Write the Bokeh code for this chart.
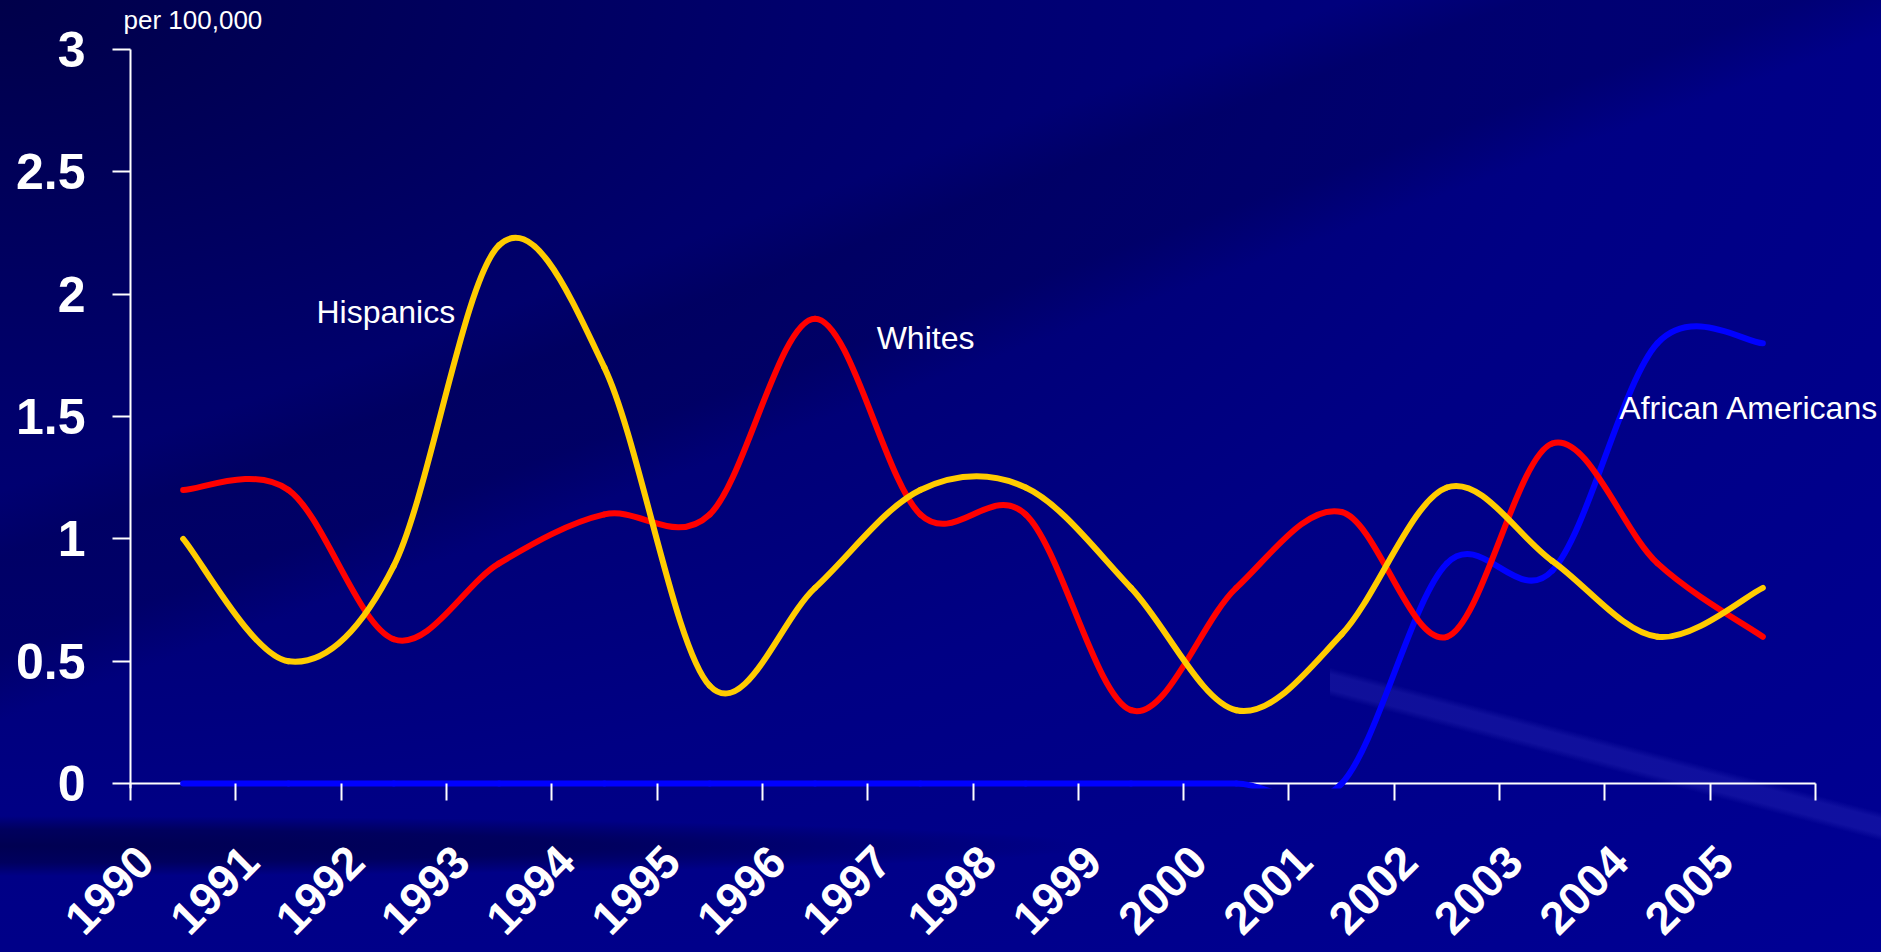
import math
from bokeh.plotting import figure
from bokeh.models import FixedTicker, Range1d, Label, ColumnDataSource
from bokeh.embed import file_html
from bokeh.resources import INLINE

# ---------------- data ----------------
years = list(range(1990, 2006))
year_labels = [str(y) for y in years]
whites = [1.20, 1.20, 0.59, 0.90, 1.10, 1.10, 1.90, 1.10, 1.10, 0.30, 0.80, 1.11, 0.60, 1.39, 0.90, 0.60]
hispanics = [1.00, 0.50, 0.89, 2.20, 1.70, 0.40, 0.80, 1.20, 1.21, 0.80, 0.30, 0.61, 1.21, 0.91, 0.60, 0.80]
african_americans = [0, 0, 0, 0, 0, 0, 0, 0, 0, 0, 0, 0, 0.90, 0.87, 1.80, 1.80]
y_ticks = [0, 0.5, 1, 1.5, 2, 2.5, 3]
y_tick_labels = ["0", "0.5", "1", "1.5", "2", "2.5", "3"]
unit_label = "per 100,000"

FONT = "Liberation Sans"


def smooth_source(xs, ys):
    """Bezier segments through the points (smoothed line, as in the original chart)."""
    n = len(xs)
    d = dict(x0=[], y0=[], x1=[], y1=[], cx0=[], cy0=[], cx1=[], cy1=[])
    for i in range(n - 1):
        ip = max(i - 1, 0)
        inx = min(i + 2, n - 1)
        d["x0"].append(xs[i]); d["y0"].append(ys[i])
        d["x1"].append(xs[i + 1]); d["y1"].append(ys[i + 1])
        d["cx0"].append(xs[i] + (xs[i + 1] - xs[ip]) / 6.0)
        d["cy0"].append(ys[i] + (ys[i + 1] - ys[ip]) / 6.0)
        d["cx1"].append(xs[i + 1] - (xs[inx] - xs[i]) / 6.0)
        d["cy1"].append(ys[i + 1] - (ys[inx] - ys[i]) / 6.0)
    return ColumnDataSource(d)


x_start = years[0] - 0.5
x_end = years[-1] + 0.5
y_min, y_max = -0.02, y_ticks[-1]
# plot area (px): axis box runs 130..1815 x 49..788; the frame is opened up a little
# to the left, to the top and to the right so the texts outside the axis box can show
span_x = x_end - x_start
x_view_start = x_start - span_x * (130 - 120) / (1815 - 130)
x_view_end = x_end + span_x * (1881 - 1815) / (1815 - 130)
y_view_end = y_max + (y_max - 0) * (49 - 0) / (783 - 49)

p = figure(width=1881, height=952,
           x_range=Range1d(x_view_start, x_view_end), y_range=Range1d(y_min, y_view_end),
           output_backend="svg", toolbar_location=None,
           min_border_left=120, min_border_right=0, min_border_top=0, min_border_bottom=164,
           background_fill_color=None, border_fill_color=None, outline_line_color=None)
p.grid.visible = False

# axis lines of the chart box
p.segment(x0=[x_start], y0=[0], x1=[x_end], y1=[0], line_color="white", line_width=2, level="underlay")
p.segment(x0=[x_start], y0=[y_min], x1=[x_start], y1=[y_max], line_color="white", line_width=2, level="underlay")

# series
for vals, col in [(african_americans, "#0000FF"), (whites, "#FF0000"), (hispanics, "#FFCC00")]:
    src = smooth_source(years, vals)
    p.bezier(x0="x0", y0="y0", x1="x1", y1="y1", cx0="cx0", cy0="cy0", cx1="cx1", cy1="cy1",
             source=src, line_color=col, line_width=6, line_cap="round")

# y axis
ya = p.yaxis[0]
ya.ticker = FixedTicker(ticks=y_ticks)
ya.major_label_overrides = {float(t): s for t, s in zip(y_ticks, y_tick_labels)}
ya.axis_line_color = None
ya.major_tick_line_color = "white"; ya.major_tick_line_width = 2
ya.major_tick_out = 8; ya.major_tick_in = 10
ya.minor_tick_line_color = None
ya.major_label_text_color = "white"
ya.major_label_text_font = FONT
ya.major_label_text_font_style = "bold"
ya.major_label_text_font_size = "50px"
ya.major_label_standoff = 27

# x axis (tick marks between categories, rotated labels)
shift = 0.359375
label_pos = [y - shift for y in years]
xa = p.xaxis[0]
xa.ticker = FixedTicker(ticks=label_pos, minor_ticks=[x_start + i for i in range(len(years) + 1)])
xa.major_label_overrides = {t: s for t, s in zip(label_pos, year_labels)}
xa.axis_line_color = None
xa.major_tick_line_color = None
xa.major_tick_out = 0; xa.major_tick_in = 0
xa.minor_tick_line_color = "white"; xa.minor_tick_line_width = 2
xa.minor_tick_out = 12; xa.minor_tick_in = 5
xa.major_label_text_color = "white"
xa.major_label_text_font = FONT
xa.major_label_text_font_style = "bold"
xa.major_label_text_font_size = "46px"
xa.major_label_orientation = math.pi / 4
xa.major_label_standoff = 53

# series names and unit note
for txt, x, y, size in [("Hispanics", 1991.266, 1.929, "32px"),
                        ("Whites", 1996.585, 1.819, "32px"),
                        ("African Americans", 2003.637, 1.537, "32px"),
                        (unit_label, 1989.434, 3.119, "26px")]:
    p.add_layout(Label(x=x, y=y, text=txt, text_color="white", text_font=FONT,
                       text_font_size=size, text_align="left", text_baseline="alphabetic"))

css = """<style>
html {
  background-color: #00008a;
  background-image:
    linear-gradient(194.7deg, rgba(0,0,0,0) 36%, rgba(80,80,220,0.20) 37.5%, rgba(80,80,220,0.20) 41%, rgba(0,0,0,0) 42.5%),
    radial-gradient(ellipse 1100px 30px at 0% 50%, rgba(0,0,30,0.5) 0%, rgba(0,0,30,0.38) 55%, rgba(0,0,30,0) 100%),
    linear-gradient(160deg, rgba(0,0,0,0) 30%, rgba(0,0,50,0.22) 34%, rgba(0,0,50,0.22) 40%, rgba(0,0,0,0) 44%),
    radial-gradient(ellipse farthest-corner at 0% 0%, #00004a 0%, #00006c 30%, #000084 60%, #000094 100%);
  background-size: 551px 300px, 1100px 60px, 100% 100%, 100% 100%;
  background-position: 1330px 652px, 0px 816px, 0 0, 0 0;
  background-repeat: no-repeat;
}
body { background: transparent; }
</style></head>"""

html = file_html(p, INLINE, title="Rates per 100,000")
html = html.replace("</head>", css, 1)
open("out.html", "w").write(html)
